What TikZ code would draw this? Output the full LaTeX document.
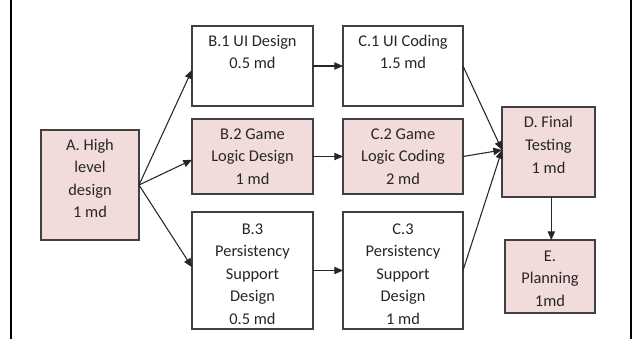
\documentclass[tikz,border=0pt]{standalone}
\usepackage{fontspec}
\setmainfont{Carlito}
\usetikzlibrary{arrows.meta}
\definecolor{taskpink}{HTML}{F2DCDB}
\definecolor{taskedge}{HTML}{404040}
\tikzset{
  task/.style={draw=taskedge, line width=0.9pt, inner sep=0pt, outer sep=0pt},
  crit/.style={task, fill=taskpink},
  plain/.style={task, fill=white},
  tasktext/.style={anchor=north, align=center, inner sep=0pt,
    font=\fontsize{12.3}{16.9}\selectfont, text=black!85},
  link/.style={draw=black!85, line width=0.8pt,
    -{Triangle[length=6.5pt,width=5.5pt]}},
  frame/.style={line width=1.5pt, black}
}
\begin{document}
\begin{tikzpicture}[x=0.75pt,y=-0.75pt]
\useasboundingbox (0,0) rectangle (636,339);
% side rules of the page
\coordinate (fl1) at (11,0);   \coordinate (fl2) at (11,339);
\coordinate (fr1) at (631,0);  \coordinate (fr2) at (631,339);
\draw[frame] (fl1) -- (fl2);
\draw[frame] (fr1) -- (fr2);

% task boxes
\node[crit,  minimum width=73.5pt, minimum height=82.5pt] (A)  at (90,185) {};
\node[plain, minimum width=90.75pt, minimum height=60pt]   (B1) at (252.5,66) {};
\node[crit,  minimum width=90.75pt, minimum height=56.25pt] (B2) at (252.5,156.5) {};
\node[plain, minimum width=90.75pt, minimum height=87.75pt] (B3) at (252.5,270.5) {};
\node[plain, minimum width=90pt, minimum height=60pt]   (C1) at (403,66) {};
\node[crit,  minimum width=90pt, minimum height=56.25pt] (C2) at (403,156.5) {};
\node[plain, minimum width=90pt, minimum height=87.75pt] (C3) at (403,270.5) {};
\node[crit,  minimum width=69.75pt, minimum height=67.5pt] (D)  at (548.5,152) {};
\node[crit,  minimum width=67.5pt, minimum height=54.75pt] (E)  at (550,276.5) {};

% box texts
\node[tasktext] (tA)  at ([yshift=-6.5pt]A.north)  {A. High\\level\\design\\1 md};
\node[tasktext] (tB1) at ([yshift=-6.5pt]B1.north) {B.1 UI Design\\0.5 md};
\node[tasktext] (tB2) at ([yshift=-7pt]B2.north) {B.2 Game\\Logic Design\\1 md};
\node[tasktext] (tB3) at ([yshift=-8.5pt]B3.north) {B.3\\Persistency\\Support\\Design\\0.5 md};
\node[tasktext] (tC1) at ([yshift=-6.5pt]C1.north) {C.1 UI Coding\\1.5 md};
\node[tasktext] (tC2) at ([yshift=-7pt]C2.north) {C.2 Game\\Logic Coding\\2 md};
\node[tasktext] (tC3) at ([yshift=-8.5pt]C3.north) {C.3\\Persistency\\Support\\Design\\1 md};
\node[tasktext] (tD)  at ([yshift=-7pt]D.north) {D. Final\\Testing\\1 md};
\node[tasktext] (tE)  at ([yshift=-8pt]E.north)  {E.\\Planning\\1md};

% dependencies
\draw[link] (A.east) -- ([yshift=-3pt]B1.west);
\draw[link] (A.east) -- ([yshift=-2.5pt]B2.west);
\draw[link] (A.east) -- ([yshift=2.5pt]B3.west);
\draw[link] (B1.east) -- (C1.west);
\draw[link] (B2.east) -- (C2.west);
\draw[link] (B3.east) -- (C3.west);
\draw[link] (C1.east) -- ([yshift=1.5pt]D.west);
\draw[link] (C2.east) -- ([yshift=1.5pt]D.west);
\draw[link] (C3.east) -- ([yshift=1.5pt]D.west);
\draw[link] ([xshift=1pt]E.north |- D.south) -- ([xshift=1pt]E.north);
\end{tikzpicture}
\end{document}
